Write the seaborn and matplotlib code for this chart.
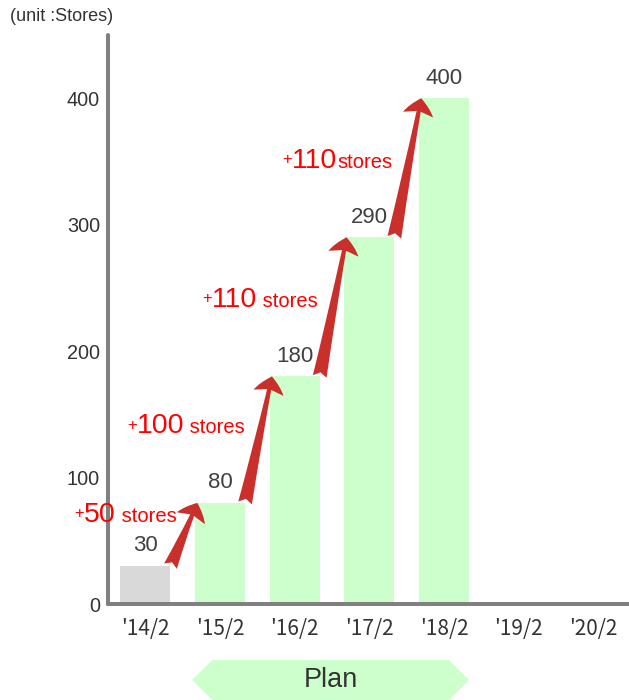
import matplotlib
matplotlib.use("Agg")
import matplotlib.pyplot as plt
import matplotlib.transforms as mtransforms
from matplotlib.patches import Polygon
import pandas as pd
import seaborn as sns

# Fiscal periods shown on the x axis (the last two have no figures yet)
periods = ["'14/2", "'15/2", "'16/2", "'17/2", "'18/2", "'19/2", "'20/2"]
store_periods = ["'14/2", "'15/2", "'16/2", "'17/2", "'18/2"]
stores = [30, 80, 180, 290, 400]
increases = [50, 100, 110, 110]
increase_suffix = [" stores", " stores", " stores", "stores"]
yticks = [0, 100, 200, 300, 400]
unit_label = "(unit :Stores)"
plan_label = "Plan"

ACTUAL_COLOR = "#d9d9d9"
PLAN_COLOR = "#ccffcc"
ARROW_COLOR = "#c9302c"
AXIS_COLOR = "#808080"
TEXT_COLOR = "#333333"

sns.set_theme(style="white")
plt.rcParams["font.family"] = ["Liberation Sans", "DejaVu Sans"]

fig = plt.figure(figsize=(6.29, 7.0), dpi=100)
ax = fig.add_axes([0.172, 0.137, 0.828, 0.813])

df = pd.DataFrame({"period": store_periods, "stores": stores})
palette = {p: (ACTUAL_COLOR if i == 0 else PLAN_COLOR) for i, p in enumerate(store_periods)}
sns.barplot(data=df, x="period", y="stores", hue="period", order=periods,
            hue_order=store_periods, palette=palette, width=0.67,
            saturation=1, linewidth=0, legend=False, ax=ax)

ax.set_xlim(-0.5, 6.48)
ax.set_ylim(0, 450)
ax.set_xlabel("")
ax.set_ylabel("")
ax.set_yticks(yticks)
ax.set_yticklabels([str(t) for t in yticks])

for side in ("top", "right"):
    ax.spines[side].set_visible(False)
for side in ("left", "bottom"):
    ax.spines[side].set_color(AXIS_COLOR)
    ax.spines[side].set_linewidth(2.9)
    ax.spines[side].set_capstyle("round")

ax.tick_params(axis="y", length=0, pad=6, labelsize=14.3, labelcolor=TEXT_COLOR)
ax.tick_params(axis="x", length=0, pad=10, labelsize=15, labelcolor=TEXT_COLOR)
for lab in ax.get_xticklabels():
    lab.set_fontfamily(["Noto Sans CJK JP", "DejaVu Sans"])

# value labels above the bars
for i, v in enumerate(stores):
    ax.annotate(f"{v}", xy=(i, v), xytext=(0, 7), textcoords="offset points",
                ha="center", va="bottom", fontsize=16, color="#404040")

# growth arrows from the top of one bar to the next
half = 0.335
tip_inset = 0.03
for i in range(len(stores) - 1):
    ax.annotate("", xy=(i + 1 - half + tip_inset, stores[i + 1]),
                xytext=(i + half, stores[i]),
                arrowprops=dict(arrowstyle="fancy,head_length=0.6,head_width=1.1,tail_width=0.5",
                                fc=ARROW_COLOR, ec="none", shrinkA=0, shrinkB=0,
                                mutation_scale=20, connectionstyle="arc3,rad=0"),
                zorder=5, annotation_clip=False)

# "+N stores" captions built from differently sized pieces, right-aligned
# just to the left of each arrow
fig.canvas.draw()
renderer = fig.canvas.get_renderer()
for i, inc in enumerate(increases):
    lo, hi = stores[i], stores[i + 1]
    baseline = min(lo + 55, (lo + hi) / 2 + 10)
    centre = baseline + 8
    frac = (centre - lo) / (hi - lo)
    arrow_x = (i + half) + frac * ((1 - 2 * half) + tip_inset)
    anchor = (arrow_x - 0.23, baseline)
    parts = [("+", 12, 2.5), (str(inc), 20.5, 0), (increase_suffix[i], 14.5, 0)]
    texts, widths = [], []
    for s, size, rise in parts:
        t = ax.annotate(s, xy=anchor, xytext=(0, rise), textcoords="offset points",
                        fontsize=size, color="#ff0000", ha="left", va="baseline",
                        annotation_clip=False, zorder=6)
        widths.append(t.get_window_extent(renderer).width * 72 / fig.dpi)
        texts.append((t, rise))
    offset = -sum(widths)
    for (t, rise), w in zip(texts, widths):
        t.xyann = (offset, rise)
        offset += w

# unit caption
fig.text(0.016, 0.977, unit_label, ha="left", va="center", fontsize=13, color=TEXT_COLOR)

# "Plan" banner spanning the planned periods
trans = mtransforms.blended_transform_factory(ax.transData, fig.transFigure)
x0, x1 = 1 - half - 0.04, len(stores) - 1 + half
slant = 0.27
y_top, y_mid, y_bot = 0.057, 0.0286, 0.0
banner = Polygon([(x0, y_mid), (x0 + slant, y_top), (x1 - slant, y_top),
                  (x1, y_mid), (x1 - slant, y_bot), (x0 + slant, y_bot)],
                 closed=True, transform=trans, clip_on=False,
                 facecolor=PLAN_COLOR, edgecolor="none")
ax.add_patch(banner)
ax.text((x0 + x1) / 2, y_mid, plan_label, transform=trans, ha="center", va="center",
        fontsize=19.5, color=TEXT_COLOR, clip_on=False)

fig.savefig("out.png", dpi=100)
